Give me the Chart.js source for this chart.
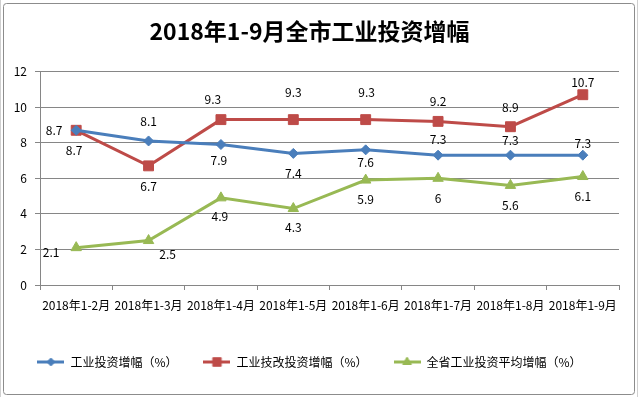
<!DOCTYPE html>
<html>
<head>
<meta charset="utf-8">
<script src="https://cdn.jsdelivr.net/npm/chart.js@4/dist/chart.umd.min.js"></script>
<style>
  html, body { margin: 0; padding: 0; background: #fff; }
  #wrap { width: 638px; height: 397px; }
</style>
</head>
<body>
<div id="wrap"><canvas id="investChart" width="638" height="397"></canvas></div>
<script>
// 数据
var months = ['2018年1-2月', '2018年1-3月', '2018年1-4月', '2018年1-5月', '2018年1-6月', '2018年1-7月', '2018年1-8月', '2018年1-9月'];
var industryGrowth = [8.7, 8.1, 7.9, 7.4, 7.6, 7.3, 7.3, 7.3];
var techGrowth = [8.7, 6.7, 9.3, 9.3, 9.3, 9.2, 8.9, 10.7];
var provinceGrowth = [2.1, 2.5, 4.9, 4.3, 5.9, 6, 5.6, 6.1];
var yTicks = [0, 2, 4, 6, 8, 10, 12];

// 数据标签偏移 (相对于点)
var labelOffsets = [
    [[-22, 0], [0, -20], [-2, 16], [0, 20], [0, 13], [0, -16], [0, -15], [0, -12]],
    [[-2, 20], [0, 21], [-8, -20], [0, -27], [1, -27], [0, -20], [0, -19], [0, -12]],
    [[-25, 5], [19, 14], [-1, 19], [0, 19], [0, 19], [0, 20], [0, 20], [0, 20]]
];

var colors = ['#4A7EBB', '#BE4B48', '#98B954'];
var styles = ['rectRot', 'rect', 'triangle'];
var radii = [5, 7, 6];

Chart.defaults.font.family = '"Noto Sans CJK SC", "Noto Sans", sans-serif';
Chart.defaults.font.size = 12;
Chart.defaults.color = '#000';

// 图例图标: 线 + 标记
function legendIcon(i) {
    var c = document.createElement('canvas');
    c.width = 27; c.height = 14;
    var g = c.getContext('2d');
    g.strokeStyle = colors[i];
    g.lineWidth = 3;
    g.beginPath(); g.moveTo(0, 7); g.lineTo(27, 7); g.stroke();
    g.fillStyle = colors[i];
    g.strokeStyle = colors[i];
    g.lineWidth = 1;
    Chart.helpers.drawPoint(g, { pointStyle: styles[i], radius: radii[i] - 1, borderWidth: 1 }, 13.5, 7);
    return c;
}

var frame = {
    id: 'frame',
    beforeDraw: function(chart) {
        var ctx = chart.ctx;
        ctx.save();
        ctx.fillStyle = '#fff';
        ctx.fillRect(0, 0, chart.width, chart.height);
        ctx.strokeStyle = '#d0d0d0';
        ctx.lineWidth = 1;
        ctx.beginPath();
        ctx.moveTo(0.5, 0); ctx.lineTo(0.5, chart.height);
        ctx.moveTo(637.5, 0); ctx.lineTo(637.5, chart.height);
        ctx.stroke();
        ctx.strokeStyle = '#8c8c8c';
        ctx.beginPath();
        ctx.roundRect(3.5, 3.5, 631, 391, 3);
        ctx.stroke();
        ctx.restore();
    }
};

var dataLabels = {
    id: 'dataLabels',
    afterDatasetsDraw: function(chart) {
        var ctx = chart.ctx;
        ctx.save();
        ctx.font = '12px "Noto Sans CJK SC", "Noto Sans", sans-serif';
        ctx.fillStyle = '#000';
        ctx.textAlign = 'center';
        ctx.textBaseline = 'middle';
        chart.data.datasets.forEach(function(ds, d) {
            chart.getDatasetMeta(d).data.forEach(function(pt, i) {
                var off = labelOffsets[d][i];
                ctx.fillText(String(ds.data[i]), pt.x + off[0], pt.y + off[1]);
            });
        });
        ctx.restore();
    }
};

function makeSet(label, data, i) {
    return {
        label: label,
        data: data,
        borderColor: colors[i],
        backgroundColor: colors[i],
        borderWidth: 3,
        pointStyle: styles[i],
        pointRadius: radii[i],
        pointBorderWidth: 1,
        pointBackgroundColor: colors[i],
        pointBorderColor: colors[i],
        tension: 0
    };
}

var ctx = document.getElementById('investChart').getContext('2d');
var chart = new Chart(ctx, {
    type: 'line',
    data: {
        labels: months,
        datasets: [
            makeSet('工业投资增幅（%）', industryGrowth, 0),
            makeSet('工业技改投资增幅（%）', techGrowth, 1),
            makeSet('全省工业投资平均增幅（%）', provinceGrowth, 2)
        ]
    },
    options: {
        responsive: false,
        animation: false,
        layout: { padding: { left: 0, right: 19, top: 0, bottom: 19 } },
        plugins: {
            title: {
                display: true,
                text: '2018年1-9月全市工业投资增幅',
                font: { size: 23, weight: 'bold' },
                color: '#000',
                padding: { top: 17, bottom: 27 }
            },
            legend: {
                position: 'bottom',
                labels: {
                    usePointStyle: true,
                    pointStyleWidth: 27,
                    boxHeight: 12,
                    padding: 26,
                    color: '#000',
                    font: { size: 12 },
                    generateLabels: function(chart) {
                        var items = Chart.defaults.plugins.legend.labels.generateLabels(chart);
                        items.forEach(function(it, i) { it.pointStyle = legendIcon(i); });
                        return items;
                    }
                }
            },
            tooltip: { enabled: false }
        },
        scales: {
            x: {
                offset: true,
                grid: { drawOnChartArea: false, drawTicks: true, tickLength: 5, offset: true, color: '#868686' },
                border: { color: '#868686' },
                ticks: { autoSkip: false, maxRotation: 0, minRotation: 0, padding: 8, color: '#000' },
                afterFit: function(s) { s.height = 45; }
            },
            y: {
                min: 0,
                max: 12,
                afterBuildTicks: function(s) { s.ticks = yTicks.map(function(v) { return { value: v }; }); },
                grid: { color: '#868686', tickLength: 5 },
                border: { color: '#868686' },
                ticks: { padding: 8, color: '#000' },
                afterFit: function(s) { s.width = 40; }
            }
        }
    },
    plugins: [frame, dataLabels]
});
</script>
</body>
</html>
